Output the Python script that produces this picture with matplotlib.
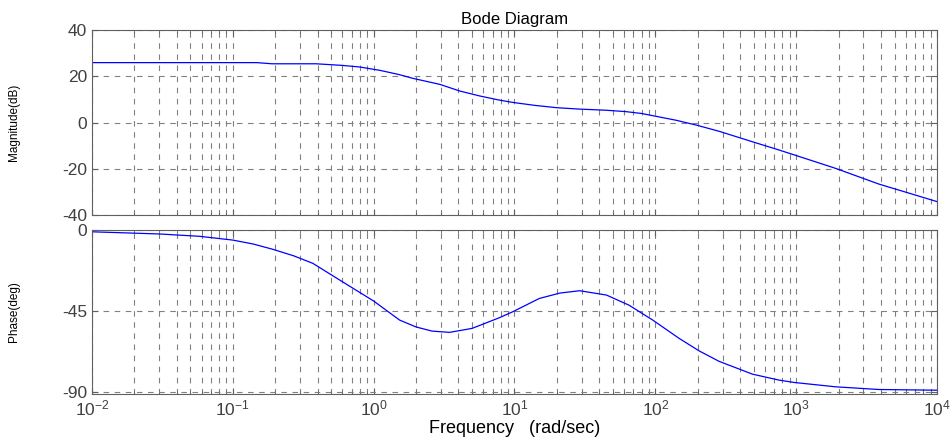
import numpy as np
import matplotlib
matplotlib.use('Agg')
import matplotlib.pyplot as plt
from matplotlib.ticker import LogLocator, NullFormatter, FuncFormatter

plt.rcParams['font.family'] = ['Liberation Sans', 'DejaVu Sans']
plt.rcParams['mathtext.default'] = 'regular'
plt.rcParams['axes.unicode_minus'] = False

# magnitude curve
w_mag = [0.01, 0.058, 0.148, 0.19, 0.39, 0.6, 0.8, 1.0, 1.1, 1.5, 1.9, 2.95,
         4.1, 5.65, 7.8, 9.7, 14, 20, 29, 45, 62, 80, 96, 140, 195, 284,
         500, 757, 968, 1900, 3860, 10000]
mag_db = [25.9, 25.9, 25.9, 25.4, 25.4, 24.7, 24.0, 23.0, 22.6, 20.8, 19.1,
          16.5, 13.6, 11.5, 9.7, 8.7, 7.4, 6.4, 5.8, 5.3, 4.7, 3.9, 2.95, 1.0,
          -1.1, -3.8, -8.5, -11.9, -14.0, -19.8, -26.6, -34.2]

# phase curve
w_ph = [0.01, 0.03, 0.058, 0.1, 0.14, 0.19, 0.27, 0.37, 0.6, 1.0, 1.53, 2.0,
        2.6, 3.46, 5.0, 7.8, 9.7, 15, 21, 29, 45, 65, 96, 148, 205, 284, 490,
        757, 968, 1900, 3860, 10000]
phase = [-1.0, -2.2, -3.5, -5.6, -7.8, -10.6, -14.3, -18.5, -28.7, -39.4,
         -50.0, -53.8, -56.1, -56.8, -54.6, -48.7, -45.4, -38.0, -35.0, -33.7,
         -36.1, -41.7, -50.0, -60.2, -67.1, -72.9, -80.0, -83.3, -84.6, -87.0,
         -88.5, -88.9]

mag_ticks = [40, 20, 0, -20, -40]
ph_ticks = [0, -45, -90]

fig = plt.figure(figsize=(9.5, 4.37), dpi=100)
ax1 = fig.add_axes([0.0968, 0.508, 0.8895, 0.4233])
ax2 = fig.add_axes([0.0968, 0.0984, 0.8895, 0.3753])

def dec(x, pos):
    return r'$10^{%d}$' % int(round(np.log10(x)))

for ax in (ax1, ax2):
    ax.set_xscale('log')
    ax.set_xlim(1e-2, 1e4)
    ax.xaxis.set_major_locator(LogLocator(base=10, numticks=10))
    ax.xaxis.set_major_formatter(FuncFormatter(dec))
    ax.xaxis.set_minor_locator(LogLocator(base=10, subs=np.arange(2, 10), numticks=10))
    ax.xaxis.set_minor_formatter(NullFormatter())
    ax.grid(True, which='both', axis='x', color='#808080', ls=(0, (5, 5)), lw=0.8)
    ax.grid(True, which='major', axis='y', color='#808080', ls=(0, (5, 5)), lw=0.8)
    ax.tick_params(which='both', direction='in', top=True, right=True,
                   colors='#606060', labelcolor='#404040', labelsize=12.5)
    ax.tick_params(which='major', length=4)
    ax.tick_params(which='minor', length=2.5)
    for s in ax.spines.values():
        s.set_color('#606060')

ax1.plot(w_mag, mag_db, color='#0000ff', lw=0.9)
ax1.set_ylim(-40, 40)
ax1.set_yticks(mag_ticks)
ax1.tick_params(labelbottom=False)
ax1.set_title('Bode Diagram', fontsize=12, pad=4)
ax1.set_ylabel('Magnitude(dB)', fontsize=8.5)
ax1.yaxis.set_label_coords(-0.085, 0.5)

ax2.plot(w_ph, phase, color='#0000ff', lw=0.9)
ax2.set_ylim(-91, 0)
ax2.set_yticks(ph_ticks)
ax2.set_ylabel('Phase(deg)', fontsize=8.5)
ax2.yaxis.set_label_coords(-0.085, 0.5)
ax2.set_xlabel('Frequency   (rad/sec)', fontsize=13, labelpad=1)

fig.savefig('out.png', dpi=100)
